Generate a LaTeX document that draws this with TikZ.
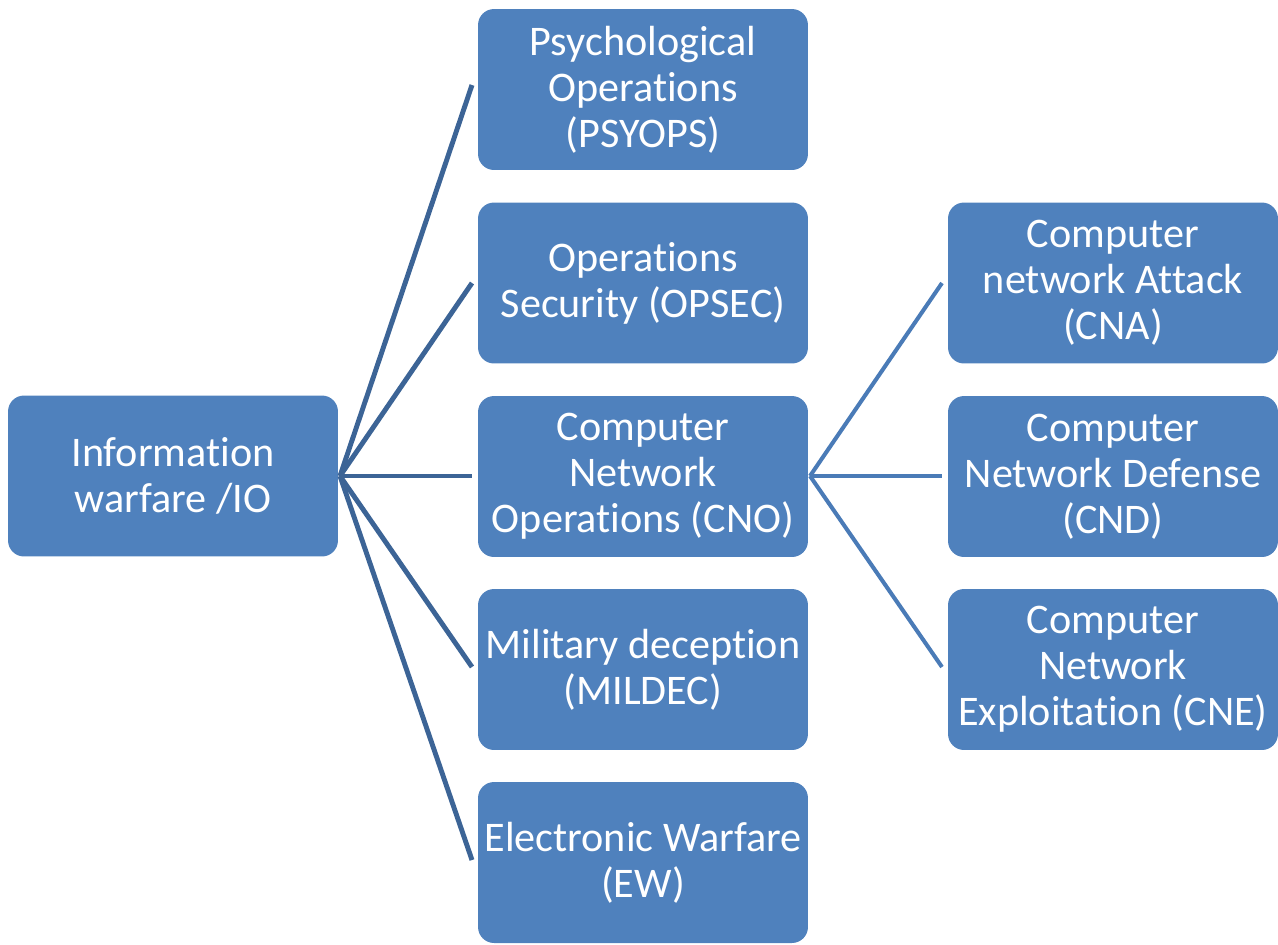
\documentclass[tikz,border=0pt]{standalone}
\usepackage{fontspec}
\setmainfont{Carlito}[Ligatures=NoCommon]
\definecolor{boxblue}{HTML}{4F81BD}
\definecolor{darkline}{HTML}{3C6496}
\definecolor{lightline}{HTML}{4A7BB7}
\tikzset{
	box/.style={draw=none, fill=boxblue, rounded corners=16*0.02cm, minimum width=6.6cm, minimum height=3.22cm,
		text=white, align=center, inner sep=0pt, font=\fontsize{24}{26.2}\selectfont},
	branch/.style={draw=darkline, line width=2.8pt},
	subbranch/.style={draw=lightline, line width=2.3pt}
}
\begin{document}
\begin{tikzpicture}[x=0.02cm,y=-0.02cm]
		\useasboundingbox (0,0) rectangle (1278,944);
		
		\node[box] (io) at (173,476) {Information\\warfare /IO};
		
		\node[box] (psyops) at (643,89.5) {Psychological\\Operations\\(PSYOPS)};
		\node[box] (opsec) at (643,283) {Operations\\Security (OPSEC)};
		\node[box] (cno) at (643,476.5) {Computer\\Network\\Operations (CNO)};
		\node[box] (mildec) at (643,669.5) {Military deception\\(MILDEC)};
		\node[box] (ew) at (643,862.5) {Electronic Warfare\\(EW)};
		
		\node[box] (cna) at (1113,283) {Computer\\network Attack\\(CNA)};
		\node[box] (cnd) at (1113,476.5) {Computer\\Network Defense\\(CND)};
		\node[box] (cne) at (1113,669.5) {Computer\\Network\\Exploitation (CNE)};
		
		% free ends of the connectors, just left of the boxes
		\coordinate (io-out) at (340,476);
		\coordinate (psyops-in) at (472,85);
		\coordinate (opsec-in) at (472,283);
		\coordinate (cno-in) at (472,476);
		\coordinate (mildec-in) at (472,667);
		\coordinate (ew-in) at (472,860);
		
		\coordinate (cno-out) at (810,476);
		\coordinate (cna-in) at (942,283);
		\coordinate (cnd-in) at (942,476);
		\coordinate (cne-in) at (942,667);
		
		\foreach \t in {psyops,opsec,cno,mildec,ew}
			\draw[branch] (io-out)--(\t-in);
		\foreach \t in {cna,cnd,cne}
			\draw[subbranch] (cno-out)--(\t-in);
		
		\end{tikzpicture}
\end{document}
